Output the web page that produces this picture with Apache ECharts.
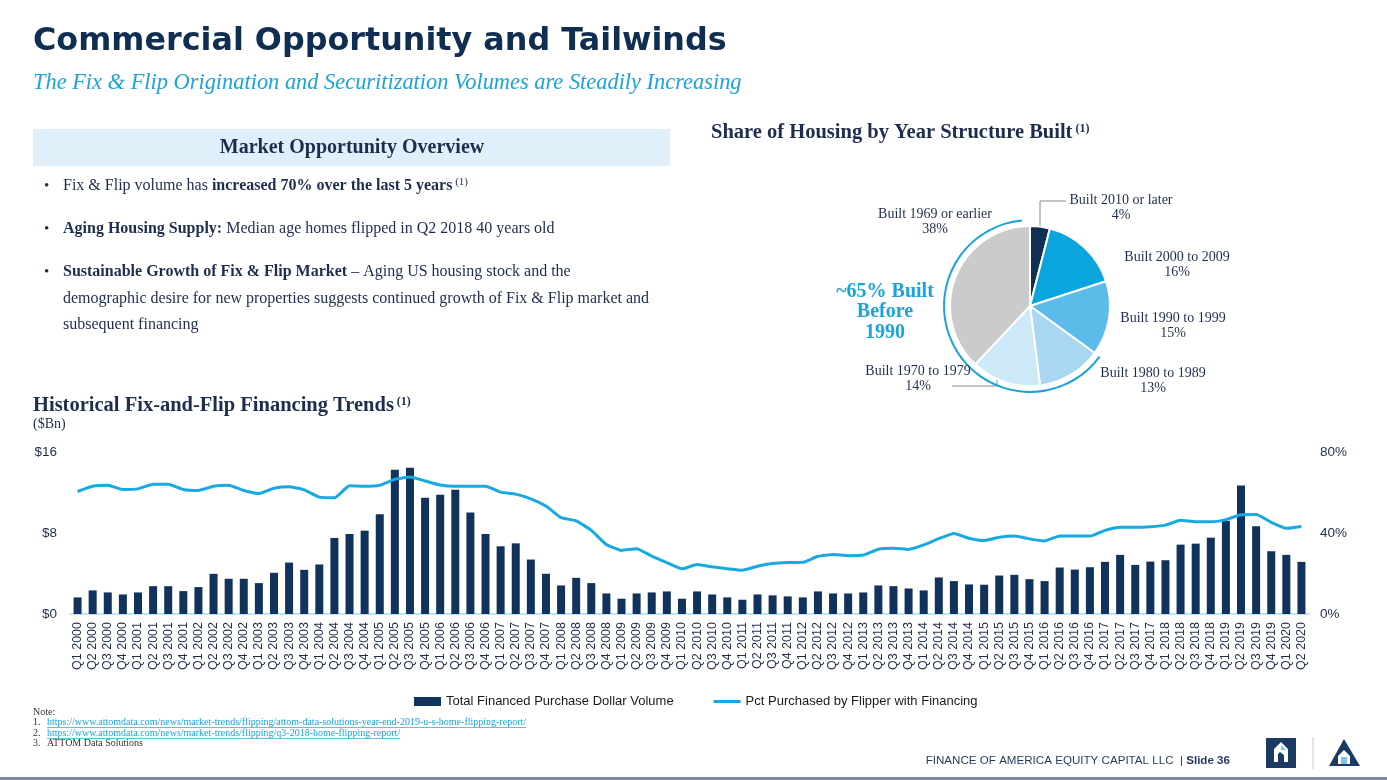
<!DOCTYPE html>
<html><head><meta charset="utf-8">
<script src="https://cdn.jsdelivr.net/npm/echarts@6/dist/echarts.min.js"></script>
<style>html,body{margin:0;padding:0;background:#fff}#c{width:1387px;height:780px}</style>
</head><body><div id="c"></div>
<script>
const quarters = [
 'Q1 2000','Q2 2000','Q3 2000','Q4 2000','Q1 2001','Q2 2001','Q3 2001','Q4 2001',
 'Q1 2002','Q2 2002','Q3 2002','Q4 2002','Q1 2003','Q2 2003','Q3 2003','Q4 2003',
 'Q1 2004','Q2 2004','Q3 2004','Q4 2004','Q1 2005','Q2 2005','Q3 2005','Q4 2005',
 'Q1 2006','Q2 2006','Q3 2006','Q4 2006','Q1 2007','Q2 2007','Q3 2007','Q4 2007',
 'Q1 2008','Q2 2008','Q3 2008','Q4 2008','Q1 2009','Q2 2009','Q3 2009','Q4 2009',
 'Q1 2010','Q2 2010','Q3 2010','Q4 2010','Q1 2011','Q2 2011','Q3 2011','Q4 2011',
 'Q1 2012','Q2 2012','Q3 2012','Q4 2012','Q1 2013','Q2 2013','Q3 2013','Q4 2013',
 'Q1 2014','Q2 2014','Q3 2014','Q4 2014','Q1 2015','Q2 2015','Q3 2015','Q4 2015',
 'Q1 2016','Q2 2016','Q3 2016','Q4 2016','Q1 2017','Q2 2017','Q3 2017','Q4 2017',
 'Q1 2018','Q2 2018','Q3 2018','Q4 2018','Q1 2019','Q2 2019','Q3 2019','Q4 2019',
 'Q1 2020','Q2 2020'];
const volumeBn = [
 1.64,2.33,2.13,1.93, 2.13,2.75,2.75,2.26, 2.66,3.97,3.48,3.48, 3.05,4.07,5.08,4.36,
 4.89,7.51,7.90,8.23, 9.84,14.25,14.45,11.48, 11.77,12.26,10.03,7.90, 6.69,6.98,5.38,3.97,
 2.82,3.57,3.05,2.03, 1.51,2.03,2.13,2.23, 1.51,2.23,1.93,1.64, 1.41,1.93,1.84,1.74,
 1.64,2.23,2.03,2.03, 2.13,2.82,2.75,2.52, 2.33,3.61,3.25,2.92, 2.89,3.80,3.87,3.44,
 3.25,4.59,4.39,4.62, 5.15,5.84,4.85,5.18, 5.31,6.85,6.95,7.54, 9.18,12.70,8.66,6.20,
 5.84,5.15];
const pctFinanced = [
 60.5,63.1,63.6,61.5, 61.8,64.1,64.1,61.5, 61.0,63.1,63.6,61.0, 59.5,62.1,62.8,61.3,
 57.7,57.4,63.3,63.1, 63.6,66.5,67.6,65.7, 63.7,63.1,63.1,63.1, 60.2,59.2,56.9,53.3,
 47.6,46.0,41.3,34.3, 31.4,32.2,28.6,25.4, 22.3,24.4,23.3,22.4, 21.6,23.6,24.9,25.4,
 25.5,28.5,29.4,28.8, 29.1,32.0,32.5,31.9, 34.1,37.2,39.8,37.4, 36.3,37.9,38.5,37.1,
 36.1,38.5,38.5,38.5, 41.3,42.9,42.8,43.1, 43.9,46.3,45.5,45.5, 46.6,49.0,49.1,45.3,
 42.3,43.2];
const leftTicks = [0, 8, 16];
const rightTicks = [0, 40, 80];
const pieNames = ['Built 2010 or later','Built 2000 to 2009','Built 1990 to 1999','Built 1980 to 1989','Built 1970 to 1979','Built 1969 or earlier'];
const pieValues = [4, 16, 15, 13, 14, 38];
const pieColors = ['#0f2f55','#0ba5dd','#5bbce9','#a9d7f2','#cde8f7','#cccbcb'];

const CYAN = '#1aa3dc', TXT = '#1e2d4d';
const SERIF = '"Liberation Serif","DejaVu Serif",serif';
const SANS = 'Arial,"Liberation Sans",sans-serif';

const before1990 = pieValues[3] + pieValues[4] + pieValues[5];
const after1990 = pieValues[0] + pieValues[1] + pieValues[2];

const pieLabelPos = [[1121,208],[1177,265],[1173,326],[1153,381],[918,379],[935,222]];

const link1 = 'https://www.attomdata.com/news/market-trends/flipping/attom-data-solutions-year-end-2019-u-s-home-flipping-report/';
const link2 = 'https://www.attomdata.com/news/market-trends/flipping/q3-2018-home-flipping-report/';
const NOTEFONT = '10px ' + SERIF;
const mctx = document.createElement('canvas').getContext('2d');
mctx.font = NOTEFONT;
const w1 = mctx.measureText(link1).width, w2 = mctx.measureText(link2).width;

const chart = echarts.init(document.getElementById('c'));
const BFS = 16;
const bulletRich = {
  n: {fontFamily: SERIF, fontSize: BFS, color: TXT},
  b: {fontFamily: SERIF, fontSize: BFS, fontWeight: 'bold', color: TXT},
  s: {fontFamily: SERIF, fontSize: 11, color: TXT, verticalAlign: 'top', padding: [0,0,8,0]}
};
function txt(x, y, text, font, fill, extra) {
  return {type: 'text', silent: true, style: Object.assign({x: x, y: y, text: text, font: font, fill: fill, verticalAlign: 'middle'}, extra || {})};
}
const hdrRich = {
  h: {fontFamily: SERIF, fontSize: 20.5, fontWeight: 'bold', color: TXT},
  s: {fontFamily: SERIF, fontSize: 12, fontWeight: 'bold', color: TXT, verticalAlign: 'top', padding: [0,0,9,0]}};
const graphics = [
  txt(33, 42, 'Commercial Opportunity and Tailwinds', 'bold 31.8px "DejaVu Sans", Verdana, sans-serif', '#0f2e52'),
  txt(33, 83, 'The Fix & Flip Origination and Securitization Volumes are Steadily Increasing', 'italic 22.4px ' + SERIF, CYAN),
  {type: 'rect', silent: true, shape: {x: 33, y: 129, width: 637, height: 37}, style: {fill: '#dff0fa'}},
  txt(352, 148, 'Market Opportunity Overview', 'bold 20px ' + SERIF, TXT, {align: 'center'}),
  txt(44, 186, '•', '15px ' + SERIF, TXT),
  txt(44, 229, '•', '15px ' + SERIF, TXT),
  txt(44, 272, '•', '15px ' + SERIF, TXT),
  txt(63, 186, '{n|Fix & Flip volume has }{b|increased 70% over the last 5 years}{s| (1)}', BFS + 'px ' + SERIF, TXT, {rich: bulletRich}),
  txt(63, 229, '{b|Aging Housing Supply:}{n| Median age homes flipped in Q2 2018 40 years old}', BFS + 'px ' + SERIF, TXT, {rich: bulletRich}),
  txt(63, 272, '{b|Sustainable Growth of Fix & Flip Market}{n| – Aging US housing stock and the}', BFS + 'px ' + SERIF, TXT, {rich: bulletRich}),
  txt(63, 299, 'demographic desire for new properties suggests continued growth of Fix & Flip market and', BFS + 'px ' + SERIF, TXT),
  txt(63, 325, 'subsequent financing', BFS + 'px ' + SERIF, TXT),
  txt(711, 133, '{h|Share of Housing by Year Structure Built}{s| (1)}', 'bold 20px ' + SERIF, TXT, {rich: hdrRich}),
  txt(33, 406, '{h|Historical Fix-and-Flip Financing Trends}{s| (1)}', 'bold 20px ' + SERIF, TXT, {rich: hdrRich}),
  txt(33, 424, '($Bn)', '14px ' + SERIF, TXT),
  txt(885, 292, '~65% Built', 'bold 20px ' + SERIF, CYAN, {align: 'center'}),
  txt(885, 312, 'Before', 'bold 20px ' + SERIF, CYAN, {align: 'center'}),
  txt(885, 333, '1990', 'bold 20px ' + SERIF, CYAN, {align: 'center'}),
  {type: 'polyline', silent: true, shape: {points: [[1040,226],[1040,201],[1066,201]]}, style: {stroke: '#8a8a8a', lineWidth: 1, fill: null}},
  {type: 'polyline', silent: true, shape: {points: [[997,379],[997,386],[952,386]]}, style: {stroke: '#8a8a8a', lineWidth: 1, fill: null}},
  txt(33, 712, 'Note:', NOTEFONT, '#333'),
  txt(33, 722, '1.', NOTEFONT, '#333'),
  txt(47, 722, link1, NOTEFONT, CYAN),
  {type: 'line', silent: true, shape: {x1: 47, y1: 727.5, x2: 47 + w1, y2: 727.5}, style: {stroke: CYAN, lineWidth: 0.7}},
  txt(33, 733, '2.', NOTEFONT, '#333'),
  txt(47, 733, link2, NOTEFONT, CYAN),
  {type: 'line', silent: true, shape: {x1: 47, y1: 738.5, x2: 47 + w2, y2: 738.5}, style: {stroke: CYAN, lineWidth: 0.7}},
  txt(33, 743, '3.', NOTEFONT, '#333'),
  txt(47, 743, 'ATTOM Data Solutions', NOTEFONT, '#333'),
  txt(1230, 761, '{n|FINANCE OF AMERICA EQUITY CAPITAL LLC  | }{b|Slide 36}', '11.6px ' + SANS, '#1f3a5f', {align: 'right', rich: {
    n: {fontFamily: SANS, fontSize: 11.6, color: '#1f3a5f'},
    b: {fontFamily: SANS, fontSize: 11.6, fontWeight: 'bold', color: '#1f3a5f'}}}),
  {type: 'rect', silent: true, shape: {x: 1266, y: 738, width: 30, height: 30}, style: {fill: '#1b3a63'}},
  {type: 'polygon', silent: true, shape: {points: [[1274,762],[1274,749],[1281,742],[1288,749],[1288,762],[1284,762],[1284,755],[1280,752],[1278,754],[1278,762]]}, style: {fill: '#ffffff'}},
  {type: 'polygon', silent: true, shape: {points: [[1281,745],[1286,750],[1281,750]]}, style: {fill: '#7cc4ec'}},
  {type: 'line', silent: true, shape: {x1: 1313, y1: 737, x2: 1313, y2: 769}, style: {stroke: '#d8dde3', lineWidth: 1.5}},
  {type: 'polygon', silent: true, shape: {points: [[1344,739],[1329,766],[1360,766]]}, style: {fill: '#1b3a63'}},
  {type: 'polygon', silent: true, shape: {points: [[1338,764],[1338,756],[1344,750],[1350,756],[1350,764]]}, style: {fill: '#ffffff'}},
  {type: 'rect', silent: true, shape: {x: 1341, y: 757, width: 6, height: 7}, style: {fill: '#7cc4ec'}},
  {type: 'rect', silent: true, shape: {x: 0, y: 777, width: 1387, height: 3}, style: {fill: '#7d8ca3'}}
];

chart.setOption({
  animation: false,
  backgroundColor: '#ffffff',
  textStyle: {fontFamily: SANS},
  graphic: graphics,
  legend: {
    left: 409, top: 690, itemGap: 40, itemWidth: 27, itemHeight: 9, symbolKeepAspect: true,
    textStyle: {fontFamily: SANS, fontSize: 13, color: '#1a1a1a'},
    data: [{name: 'Total Financed Purchase Dollar Volume', icon: 'rect'},
           {name: 'Pct Purchased by Flipper with Financing', icon: 'path://M0,0h27v3h-27z'}]
  },
  grid: {left: 70, right: 78, top: 452, bottom: 166, containLabel: false},
  xAxis: {
    type: 'category', data: quarters, boundaryGap: true,
    axisLine: {lineStyle: {color: '#bfe2f6', width: 2}},
    axisTick: {show: false},
    axisLabel: {rotate: 90, interval: 0, fontSize: 12.5, color: '#1e2d4d', fontFamily: SANS, margin: 8}
  },
  yAxis: [
    {type: 'value', min: 0, max: 16, interval: 8,
     axisLine: {show: false}, axisTick: {show: false}, splitLine: {show: false},
     axisLabel: {fontSize: 13.5, color: '#1e2d4d', fontFamily: SANS, margin: 13, formatter: v => leftTicks.indexOf(v) >= 0 ? '$' + v : ''}},
    {type: 'value', min: 0, max: 80, interval: 40,
     axisLine: {show: false}, axisTick: {show: false}, splitLine: {show: false},
     axisLabel: {fontSize: 13.5, color: '#1e2d4d', fontFamily: SANS, margin: 11, formatter: v => rightTicks.indexOf(v) >= 0 ? v + '%' : ''}}
  ],
  series: [
    {name: 'Total Financed Purchase Dollar Volume', type: 'bar', data: volumeBn, barWidth: 8,
     itemStyle: {color: '#11325a'}, z: 2},
    {name: 'Pct Purchased by Flipper with Financing', type: 'line', yAxisIndex: 1, data: pctFinanced,
     symbol: 'none', smooth: 0.15, lineStyle: {color: '#19a9e1', width: 3}, itemStyle: {color: '#19a9e1'}, z: 3},
    {type: 'pie', center: [1030, 306], radius: [0, 80], startAngle: 90, clockwise: true,
     data: pieNames.map((n, i) => ({name: n, value: pieValues[i], itemStyle: {color: pieColors[i]}})),
     itemStyle: {borderColor: '#ffffff', borderWidth: 2},
     label: {show: true, position: 'outside', formatter: p => p.name + '\n' + p.value + '%', fontFamily: SERIF, fontSize: 14, color: TXT, lineHeight: 15, align: 'center'},
     labelLine: {show: false},
     labelLayout: p => ({x: pieLabelPos[p.dataIndex][0], y: pieLabelPos[p.dataIndex][1], align: 'center', verticalAlign: 'middle'}),
     emphasis: {disabled: true}, silent: true},
    {type: 'pie', center: [1030, 306], radius: [85, 87], startAngle: 90, clockwise: true, silent: true,
     label: {show: false}, labelLine: {show: false}, emphasis: {disabled: true},
     data: [{value: after1990, itemStyle: {color: 'rgba(0,0,0,0)'}}, {value: before1990 - 1.5, itemStyle: {color: CYAN}}, {value: 1.5, itemStyle: {color: 'rgba(0,0,0,0)'}}]}
  ]
});
</script>
</body></html>
